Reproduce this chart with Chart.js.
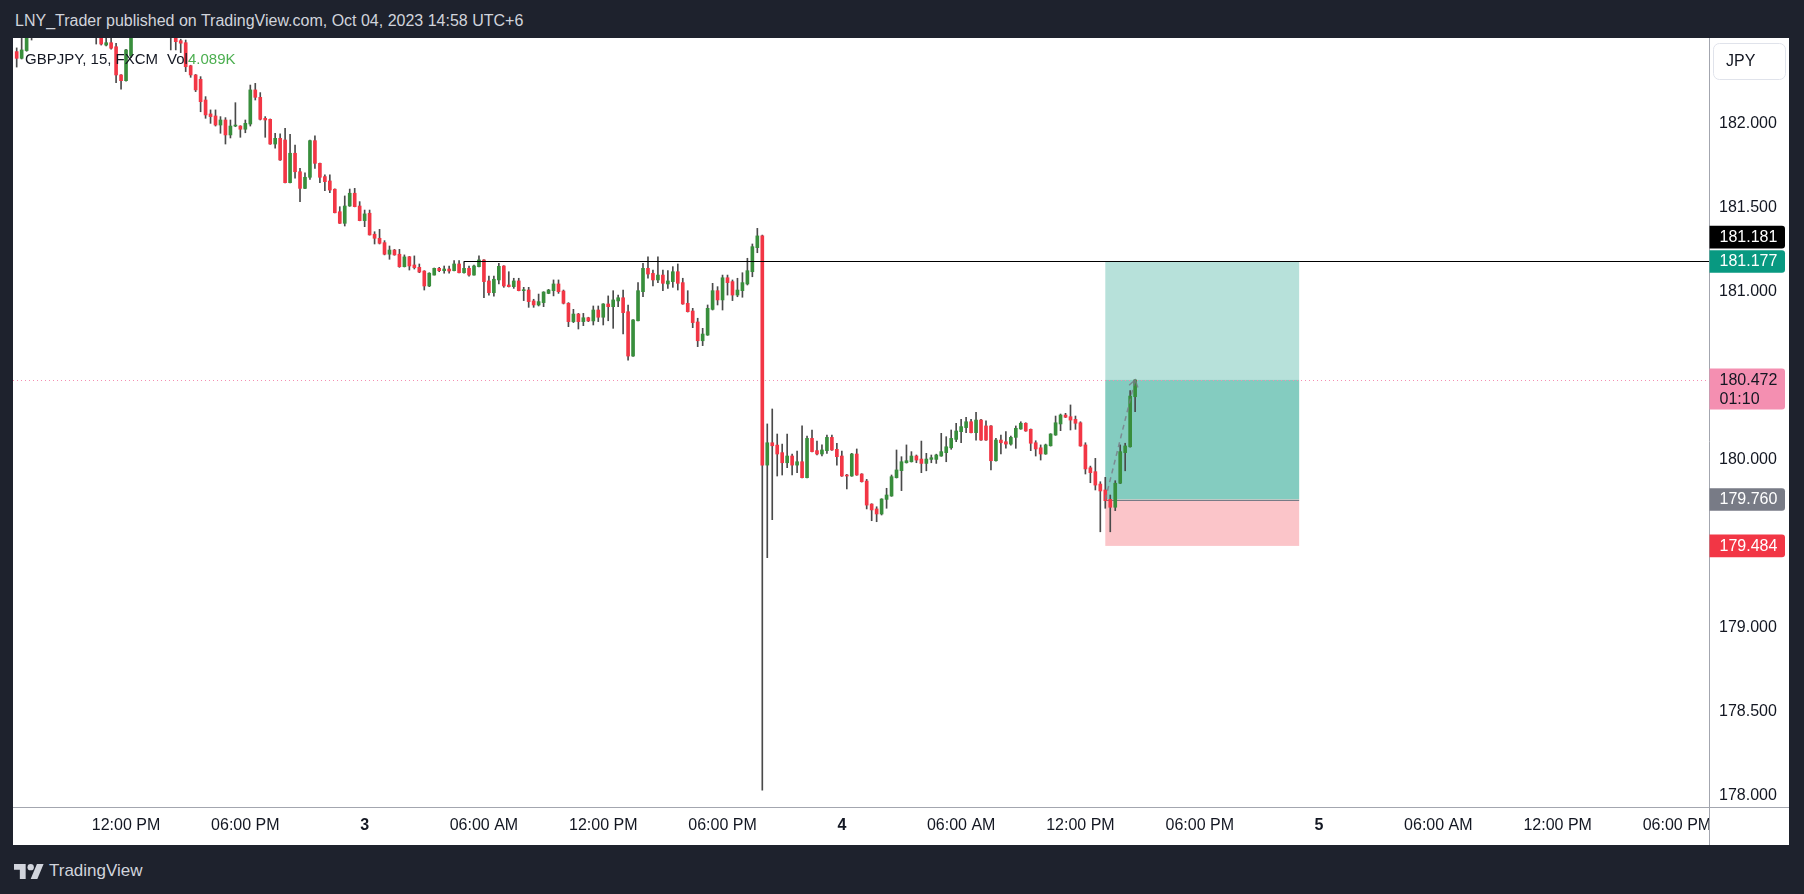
<!DOCTYPE html>
<html>
<head>
<meta charset="utf-8">
<title>GBPJPY, 15, FXCM</title>
<script src="https://cdn.jsdelivr.net/npm/chart.js@4.4.0/dist/chart.umd.min.js"></script>
<style>
  html, body { margin: 0; padding: 0; width: 1804px; height: 894px; overflow: hidden; background: #1e222d; font-family: "Liberation Sans", Arial, sans-serif; }
  #title { position: absolute; left: 15px; top: 11px; line-height: 20px; font-size: 16px; color: #d1d4dc; white-space: nowrap; }
  #panel { position: absolute; left: 13px; top: 38px; width: 1776px; height: 807px; background: #fff; }
  #brand { position: absolute; left: 14px; top: 861px; height: 20px; display: flex; align-items: center; gap: 5px; color: #d1d4dc; font-size: 17px; }
</style>
</head>
<body>
<div id="title">LNY_Trader published on TradingView.com, Oct 04, 2023 14:58 UTC+6</div>
<div id="panel"><canvas id="chart"></canvas></div>
<div id="brand">
  <svg width="30" height="15" viewBox="0 0 36 18"><path d="M14 18H7V7H0V0h14z" fill="#d1d4dc"/><circle cx="20" cy="3.8" r="3.8" fill="#d1d4dc"/><path d="M28 18h-8L27.5 0h8z" fill="#d1d4dc"/></svg>
  <span>TradingView</span>
</div>
<script>
// 15 minute bars, bar n = Oct 2 00:00 (UTC+6) + n * 15 min
// null = bar sits above the visible price range
const firstBar = 26;

const opens = [
  182.426, 182.386, 182.432, 182.580,
  null, null, null, null, null, null, null, null, null, null, null, null,
  182.580, 182.550, 182.465, 182.479, 182.455, 182.287, 182.253, 182.400,
  null, null, null, null, null, null, null,
  182.560, 182.530, 182.491,
  182.479, 182.342, 182.287, 182.261, 182.138, 182.055, 182.043, 181.989, 182.019, 181.930,
  181.983, 181.983, 181.964, 181.995, 182.198, 182.154, 182.029, 182.023, 181.876, 181.910,
  181.900, 181.646, 181.821, 181.711, 181.612, 181.678, 181.896, 181.761, 181.682, 181.656,
  181.607, 181.473, 181.404, 181.507, 181.583, 181.507, 181.420, 181.464, 181.339, 181.315,
  181.289, 181.220, 181.245, 181.220, 181.146, 181.205, 181.156, 181.142, 181.120, 181.031,
  181.096, 181.136, 181.122, 181.132, 181.122, 181.162, 181.110, 181.136, 181.096, 181.146,
  181.186, 181.061, 180.991, 181.067, 181.150, 181.037, 181.027, 181.061, 181.003, 181.007,
  180.942, 180.918, 180.932, 180.987, 181.003, 181.043, 181.001, 180.928, 180.819, 180.864,
  180.819, 180.842, 180.823, 180.888, 180.845, 180.924, 180.908, 180.942, 180.961, 180.878,
  180.614, 180.824, 180.997, 181.136, 181.106, 181.067, 181.096, 181.043, 181.057, 181.116,
  181.051, 180.928, 180.882, 180.817, 180.705, 180.739, 180.892, 181.003, 180.948, 181.080,
  181.057, 180.977, 181.003, 181.043, 181.116, 181.259, 181.329, 179.965, 180.098, 180.084,
  180.039, 179.979, 180.019, 179.965, 179.985, 179.890, 180.124, 180.051, 180.031, 180.051,
  180.130, 180.059, 180.019, 179.906, 179.900, 180.031, 179.912, 179.870, 179.733, 179.704,
  179.674, 179.761, 179.781, 179.890, 179.932, 179.979, 179.985, 180.019, 180.001, 179.975,
  179.999, 179.999, 180.019, 180.039, 180.068, 180.118, 180.164, 180.188, 180.223, 180.158,
  180.233, 180.198, 180.198, 179.991, 180.114, 180.104, 180.090, 180.130, 180.180, 180.214,
  180.178, 180.098, 180.068, 180.031, 180.080, 180.144, 180.210, 180.263, 180.253, 180.237,
  180.217, 180.085, 179.949, 179.926, 179.852, 179.817, 179.761, 179.714, 179.857, 180.039, 180.074, 180.372
];

const highs = [
  182.448, 182.530, 182.600, 182.650,
  null, null, null, null, null, null, null, null, null, null, null, null,
  182.620, 182.580, 182.520, 182.520, 182.476, 182.290, 182.440, 182.600,
  null, null, null, null, null, null, null,
  182.600, 182.550, 182.500,
  182.495, 182.345, 182.290, 182.277, 182.158, 182.079, 182.079, 182.039, 182.033, 182.019,
  182.122, 181.985, 182.019, 182.227, 182.237, 182.182, 182.039, 182.025, 181.940, 181.936,
  181.970, 181.934, 181.870, 181.732, 181.704, 181.900, 181.924, 181.763, 181.692, 181.692,
  181.609, 181.503, 181.567, 181.608, 181.612, 181.533, 181.483, 181.483, 181.354, 181.368,
  181.301, 181.269, 181.249, 181.249, 181.216, 181.207, 181.210, 181.162, 181.122, 181.110,
  181.138, 181.142, 181.150, 181.150, 181.182, 181.182, 181.176, 181.150, 181.156, 181.210,
  181.188, 181.090, 181.090, 181.166, 181.152, 181.116, 181.077, 181.077, 181.023, 181.023,
  180.952, 180.983, 180.997, 181.011, 181.067, 181.067, 181.007, 180.932, 180.892, 180.868,
  180.868, 180.845, 180.912, 180.912, 180.926, 180.972, 181.003, 180.977, 181.007, 180.918,
  180.831, 181.051, 181.166, 181.205, 181.126, 181.205, 181.126, 181.122, 181.146, 181.162,
  181.077, 181.003, 180.898, 180.839, 180.779, 180.918, 181.047, 181.027, 181.096, 181.096,
  181.067, 181.077, 181.110, 181.196, 181.281, 181.374, 181.334, 180.210, 180.299, 180.150,
  180.090, 180.150, 180.031, 180.049, 180.198, 180.138, 180.174, 180.108, 180.085, 180.144,
  180.144, 180.095, 180.049, 179.910, 180.035, 180.061, 179.914, 179.880, 179.735, 179.717,
  179.765, 179.827, 179.906, 180.055, 180.015, 180.085, 180.045, 180.025, 180.108, 180.035,
  180.025, 180.030, 180.154, 180.134, 180.174, 180.214, 180.238, 180.249, 180.238, 180.279,
  180.238, 180.229, 180.200, 180.124, 180.144, 180.164, 180.138, 180.198, 180.223, 180.217,
  180.180, 180.110, 180.085, 180.090, 180.152, 180.257, 180.269, 180.273, 180.323, 180.257,
  180.223, 180.098, 179.959, 180.005, 179.866, 179.892, 179.787, 179.872, 180.085, 180.095, 180.408, 180.472
];

const lows = [
  182.334, 182.382, 182.428, 182.495,
  null, null, null, null, null, null, null, null, null, null, null, null,
  182.471, 182.465, 182.460, 182.440, 182.241, 182.202, 182.250, 182.390,
  null, null, null, null, null, null, null,
  182.436, 182.436, 182.420,
  182.307, 182.273, 182.188, 182.068, 182.029, 181.999, 181.983, 181.940, 181.876, 181.912,
  181.979, 181.916, 181.943, 181.983, 182.138, 182.019, 181.916, 181.874, 181.851, 181.779,
  181.645, 181.645, 181.672, 181.533, 181.610, 181.666, 181.731, 181.646, 181.598, 181.586,
  181.466, 181.403, 181.388, 181.505, 181.502, 181.419, 181.384, 181.334, 181.281, 181.281,
  181.216, 181.190, 181.214, 181.142, 181.144, 181.126, 181.132, 181.110, 181.007, 181.027,
  181.096, 181.116, 181.107, 181.107, 181.120, 181.109, 181.108, 181.090, 181.095, 181.144,
  180.962, 180.977, 180.971, 181.043, 181.023, 181.025, 181.017, 181.002, 180.944, 180.904,
  180.904, 180.912, 180.908, 180.985, 180.972, 180.987, 180.924, 180.789, 180.813, 180.775,
  180.795, 180.819, 180.799, 180.819, 180.799, 180.824, 180.779, 180.908, 180.745, 180.590,
  180.612, 180.823, 180.967, 181.077, 181.031, 181.051, 181.003, 181.017, 181.023, 181.007,
  180.922, 180.876, 180.783, 180.670, 180.676, 180.737, 180.888, 180.918, 180.888, 180.977,
  180.944, 180.967, 180.964, 181.037, 181.086, 181.229, 178.030, 179.414, 179.640, 179.900,
  179.906, 179.949, 179.906, 179.920, 179.888, 179.888, 180.043, 180.025, 180.019, 180.035,
  180.053, 179.965, 179.898, 179.823, 179.898, 179.904, 179.864, 179.704, 179.634, 179.628,
  179.668, 179.708, 179.779, 179.888, 179.813, 179.977, 179.983, 179.979, 179.920, 179.931,
  179.979, 179.975, 180.017, 179.985, 180.059, 180.104, 180.098, 180.158, 180.156, 180.114,
  180.112, 180.112, 179.936, 179.989, 180.031, 180.065, 180.084, 180.065, 180.178, 180.166,
  180.051, 180.019, 179.995, 180.029, 180.078, 180.142, 180.170, 180.248, 180.174, 180.178,
  180.077, 179.912, 179.860, 179.817, 179.568, 179.708, 179.568, 179.694, 179.855, 179.931, 180.072, 180.283
];

const closes = [
  182.386, 182.436, 182.560, 182.620,
  null, null, null, null, null, null, null, null, null, null, null, null,
  182.530, 182.471, 182.479, 182.446, 182.287, 182.253, 182.436, 182.560,
  null, null, null, null, null, null, null,
  182.530, 182.485, 182.476,
  182.336, 182.287, 182.198, 182.128, 182.049, 182.039, 181.989, 182.019, 181.930, 181.983,
  181.984, 181.964, 181.999, 182.198, 182.154, 182.023, 182.019, 181.876, 181.910, 181.781,
  181.646, 181.821, 181.711, 181.612, 181.678, 181.896, 181.761, 181.678, 181.652, 181.602,
  181.467, 181.404, 181.507, 181.583, 181.503, 181.420, 181.460, 181.335, 181.315, 181.285,
  181.220, 181.245, 181.216, 181.146, 181.204, 181.150, 181.140, 181.114, 181.031, 181.107,
  181.136, 181.122, 181.132, 181.120, 181.162, 181.110, 181.136, 181.096, 181.150, 181.186,
  181.057, 180.991, 181.071, 181.148, 181.031, 181.027, 181.061, 181.003, 181.007, 180.938,
  180.918, 180.938, 180.995, 181.007, 181.043, 180.997, 180.928, 180.819, 180.864, 180.819,
  180.842, 180.823, 180.888, 180.845, 180.924, 180.908, 180.948, 180.961, 180.872, 180.614,
  180.829, 181.003, 181.136, 181.102, 181.067, 181.096, 181.047, 181.061, 181.116, 181.047,
  180.924, 180.878, 180.813, 180.705, 180.745, 180.898, 181.003, 180.948, 181.080, 181.051,
  180.977, 181.007, 181.051, 181.122, 181.265, 181.329, 179.965, 180.098, 180.080, 180.031,
  179.979, 180.019, 179.965, 179.985, 179.890, 180.124, 180.045, 180.031, 180.055, 180.130,
  180.055, 180.015, 179.900, 179.900, 180.031, 179.906, 179.866, 179.727, 179.698, 179.674,
  179.763, 179.787, 179.896, 179.936, 179.985, 179.991, 180.019, 179.995, 179.975, 180.001,
  180.009, 180.025, 180.045, 180.074, 180.124, 180.168, 180.194, 180.223, 180.158, 180.233,
  180.114, 180.114, 179.991, 180.114, 180.098, 180.090, 180.130, 180.184, 180.214, 180.168,
  180.095, 180.061, 180.031, 180.085, 180.150, 180.217, 180.263, 180.250, 180.233, 180.214,
  180.079, 179.942, 179.920, 179.846, 179.811, 179.753, 179.714, 179.857, 180.045, 180.079, 180.376, 180.472
];

// time axis
const tickBars = [48, 72, 96, 120, 144, 168, 192, 216, 240, 264, 288, 312, 336, 360];
const tickLabels = ["12:00 PM", "06:00 PM", "3", "06:00 AM", "12:00 PM", "06:00 PM", "4",
                    "06:00 AM", "12:00 PM", "06:00 PM", "5", "06:00 AM", "12:00 PM", "06:00 PM"];
const dayBars = [96, 192, 288];
// 179.500 and 180.500 sit under the price tags, so they are not shown
const priceTicks = [178, 178.5, 179, 180, 181, 181.5, 182];

// drawings on the chart
const hLinePrice = 181.181;
const hLineStartBar = 116;
const lastPrice = 180.472;
const countdown = "01:10";
const entryPrice = 179.760;
const targetPrice = 181.177;
const stopPrice = 179.484;
const posStartBar = 245;
const posEndBar = 284;

const GREEN = "#388e3c";
const RED = "#f23645";
const WICK = "#4a4a4a";
const INK = "#131722";
const FONT = '"Liberation Sans", Arial, sans-serif';

const bodies = [];
const wicks = [];
const bodyColors = [];
for (let i = 0; i < opens.length; i++) {
  if (opens[i] === null) continue;
  const bar = firstBar + i;
  bodies.push({ x: bar, y: [opens[i], closes[i]] });
  wicks.push({ x: bar, y: [lows[i], highs[i]] });
  bodyColors.push(closes[i] >= opens[i] ? GREEN : RED);
}

function tag(ctx, left, right, yc, h, bg, fg, lines) {
  const top = yc - h / 2;
  ctx.fillStyle = bg;
  ctx.beginPath();
  ctx.roundRect(left, top, right - left, h, [0, 3, 3, 0]);
  ctx.fill();
  ctx.fillStyle = fg;
  ctx.font = "16px " + FONT;
  ctx.textAlign = "left";
  ctx.textBaseline = "middle";
  lines.forEach((t, k) => ctx.fillText(t, left + 10, top + 11.5 + k * 19.5));
}

const tvOverlay = {
  id: "tvOverlay",
  beforeDatasetsDraw(chart) {
    const { ctx, chartArea: a, scales: { x, y } } = chart;
    ctx.save();
    ctx.beginPath();
    ctx.rect(a.left, a.top, a.right - a.left, a.bottom - a.top);
    ctx.clip();

    const x0 = x.getPixelForValue(posStartBar);
    const x1 = x.getPixelForValue(posEndBar);
    const yT = y.getPixelForValue(targetPrice);
    const yE = y.getPixelForValue(entryPrice);
    const yS = y.getPixelForValue(stopPrice);
    const yL = y.getPixelForValue(lastPrice);
    ctx.fillStyle = "rgba(8,153,129,0.29)";
    ctx.fillRect(x0, yT, x1 - x0, yE - yT);
    ctx.fillRect(x0, yL, x1 - x0, yE - yL);
    ctx.fillStyle = "rgba(242,54,69,0.29)";
    ctx.fillRect(x0, yE, x1 - x0, yS - yE);
    ctx.strokeStyle = "#787b86";
    ctx.lineWidth = 1;
    ctx.beginPath();
    ctx.moveTo(x0, Math.round(yE) + 0.5);
    ctx.lineTo(x1, Math.round(yE) + 0.5);
    ctx.stroke();

    // last price line
    ctx.strokeStyle = "#f48fb1";
    ctx.setLineDash([1, 3]);
    ctx.beginPath();
    ctx.moveTo(a.left, Math.round(yL) + 0.5);
    ctx.lineTo(a.right, Math.round(yL) + 0.5);
    ctx.stroke();
    ctx.restore();
  },
  afterDatasetsDraw(chart) {
    const { ctx, chartArea: a, scales: { x, y } } = chart;
    ctx.save();
    ctx.beginPath();
    ctx.rect(a.left, a.top, a.right - a.left, a.bottom - a.top);
    ctx.clip();

    const yH = Math.round(y.getPixelForValue(hLinePrice)) + 0.5;
    ctx.strokeStyle = "#000";
    ctx.lineWidth = 1.2;
    ctx.beginPath();
    ctx.moveTo(x.getPixelForValue(hLineStartBar), yH);
    ctx.lineTo(a.right, yH);
    ctx.stroke();

    // dashed path from entry to current price
    const ax = x.getPixelForValue(posStartBar), ay = y.getPixelForValue(entryPrice);
    const bx = x.getPixelForValue(firstBar + opens.length - 1), by = y.getPixelForValue(lastPrice);
    ctx.strokeStyle = "rgba(120,123,134,0.8)";
    ctx.lineWidth = 1.5;
    ctx.setLineDash([5, 4]);
    ctx.beginPath();
    ctx.moveTo(ax, ay);
    ctx.lineTo(bx, by);
    ctx.stroke();
    ctx.setLineDash([]);
    const ang = Math.atan2(by - ay, bx - ax);
    ctx.beginPath();
    ctx.moveTo(bx - 8 * Math.cos(ang - 0.6), by - 8 * Math.sin(ang - 0.6));
    ctx.lineTo(bx, by);
    ctx.lineTo(bx - 8 * Math.cos(ang + 0.6), by - 8 * Math.sin(ang + 0.6));
    ctx.stroke();
    ctx.restore();
  },
  afterDraw(chart) {
    const { ctx, chartArea: a, scales: { y } } = chart;
    const W = chart.width, H = chart.height;
    ctx.save();
    // corner below the price scale stays empty
    ctx.fillStyle = "#fff";
    ctx.fillRect(a.right + 0.5, a.bottom + 0.5, W - a.right, H - a.bottom);

    ctx.strokeStyle = "#a3a6af";
    ctx.lineWidth = 1;
    ctx.beginPath();
    ctx.moveTo(a.right + 0.5, 0);
    ctx.lineTo(a.right + 0.5, H);
    ctx.moveTo(0, a.bottom + 0.5);
    ctx.lineTo(W, a.bottom + 0.5);
    ctx.stroke();

    // price scale labels
    const L = a.right + 0.5, R = a.right + 76;
    const hTag = 22.6;
    const yTgt = y.getPixelForValue(targetPrice);
    let yLine = y.getPixelForValue(hLinePrice);
    if (Math.abs(yLine - yTgt) < hTag + 1.7) yLine = yTgt - hTag - 1.7;
    tag(ctx, L, R, yLine, hTag, "#000000", "#ffffff", [hLinePrice.toFixed(3)]);
    tag(ctx, L, R, yTgt, hTag, "#089981", "#ffffff", [targetPrice.toFixed(3)]);
    const yLast = y.getPixelForValue(lastPrice);
    tag(ctx, L, R, yLast + 9.2, 41, "#f48fb1", INK, [lastPrice.toFixed(3), countdown]);
    tag(ctx, L, R, y.getPixelForValue(entryPrice), hTag, "#787b86", "#ffffff", [entryPrice.toFixed(3)]);
    tag(ctx, L, R, y.getPixelForValue(stopPrice), hTag, "#f23645", "#ffffff", [stopPrice.toFixed(3)]);

    // currency button
    ctx.strokeStyle = "#e0e3eb";
    ctx.beginPath();
    ctx.roundRect(a.right + 4.5, 5.5, 72, 36, 6);
    ctx.stroke();
    ctx.fillStyle = INK;
    ctx.font = "16px " + FONT;
    ctx.textAlign = "left";
    ctx.textBaseline = "middle";
    ctx.fillText("JPY", a.right + 17, 24);

    // legend
    ctx.font = "15px " + FONT;
    ctx.fillText("GBPJPY, 15, FXCM", 12, 22);
    ctx.fillText("Vol", 154, 22);
    ctx.fillStyle = "#4caf50";
    ctx.fillText("4.089K", 175, 22);
    ctx.restore();
  }
};

new Chart(document.getElementById("chart"), {
  type: "bar",
  data: {
    datasets: [
      {
        label: "body",
        data: bodies,
        backgroundColor: bodyColors,
        barThickness: 3,
        minBarLength: 1,
        grouped: false,
        clip: 0
      },
      {
        label: "wick",
        data: wicks,
        backgroundColor: WICK,
        barThickness: 1,
        grouped: false,
        clip: 0
      }
    ]
  },
  options: {
    responsive: true,
    maintainAspectRatio: false,
    animation: false,
    events: [],
    layout: { padding: 0, autoPadding: false },
    plugins: {
      legend: { display: false },
      tooltip: { enabled: false }
    },
    scales: {
      x: {
        type: "linear",
        position: "bottom",
        offset: false,
        min: 25.26,
        max: 366.45,
        grid: { display: false, drawTicks: false },
        border: { display: false },
        afterBuildTicks: (scale) => {
          scale.ticks = tickBars.map((v) => ({ value: v }));
        },
        afterFit: (scale) => {
          scale.height = 38;
          scale.paddingLeft = 0;
          scale.paddingRight = 0;
        },
        ticks: {
          autoSkip: false,
          maxRotation: 0,
          padding: 9,
          color: INK,
          font: (c) => ({
            family: FONT,
            size: 16,
            weight: c.tick && dayBars.includes(c.tick.value) ? "bold" : "normal"
          }),
          callback: (v) => tickLabels[tickBars.indexOf(v)]
        }
      },
      y: {
        type: "linear",
        position: "right",
        min: 177.930,
        max: 182.507,
        grid: { display: false, drawTicks: false },
        border: { display: false },
        afterBuildTicks: (scale) => {
          scale.ticks = priceTicks.map((v) => ({ value: v }));
        },
        afterFit: (scale) => {
          scale.width = 80;
          scale.paddingTop = 0;
          scale.paddingBottom = 0;
        },
        ticks: {
          padding: 10,
          color: INK,
          font: { family: FONT, size: 16 },
          callback: (v) => v.toFixed(3)
        }
      }
    }
  },
  plugins: [tvOverlay]
});
</script>
</body>
</html>
